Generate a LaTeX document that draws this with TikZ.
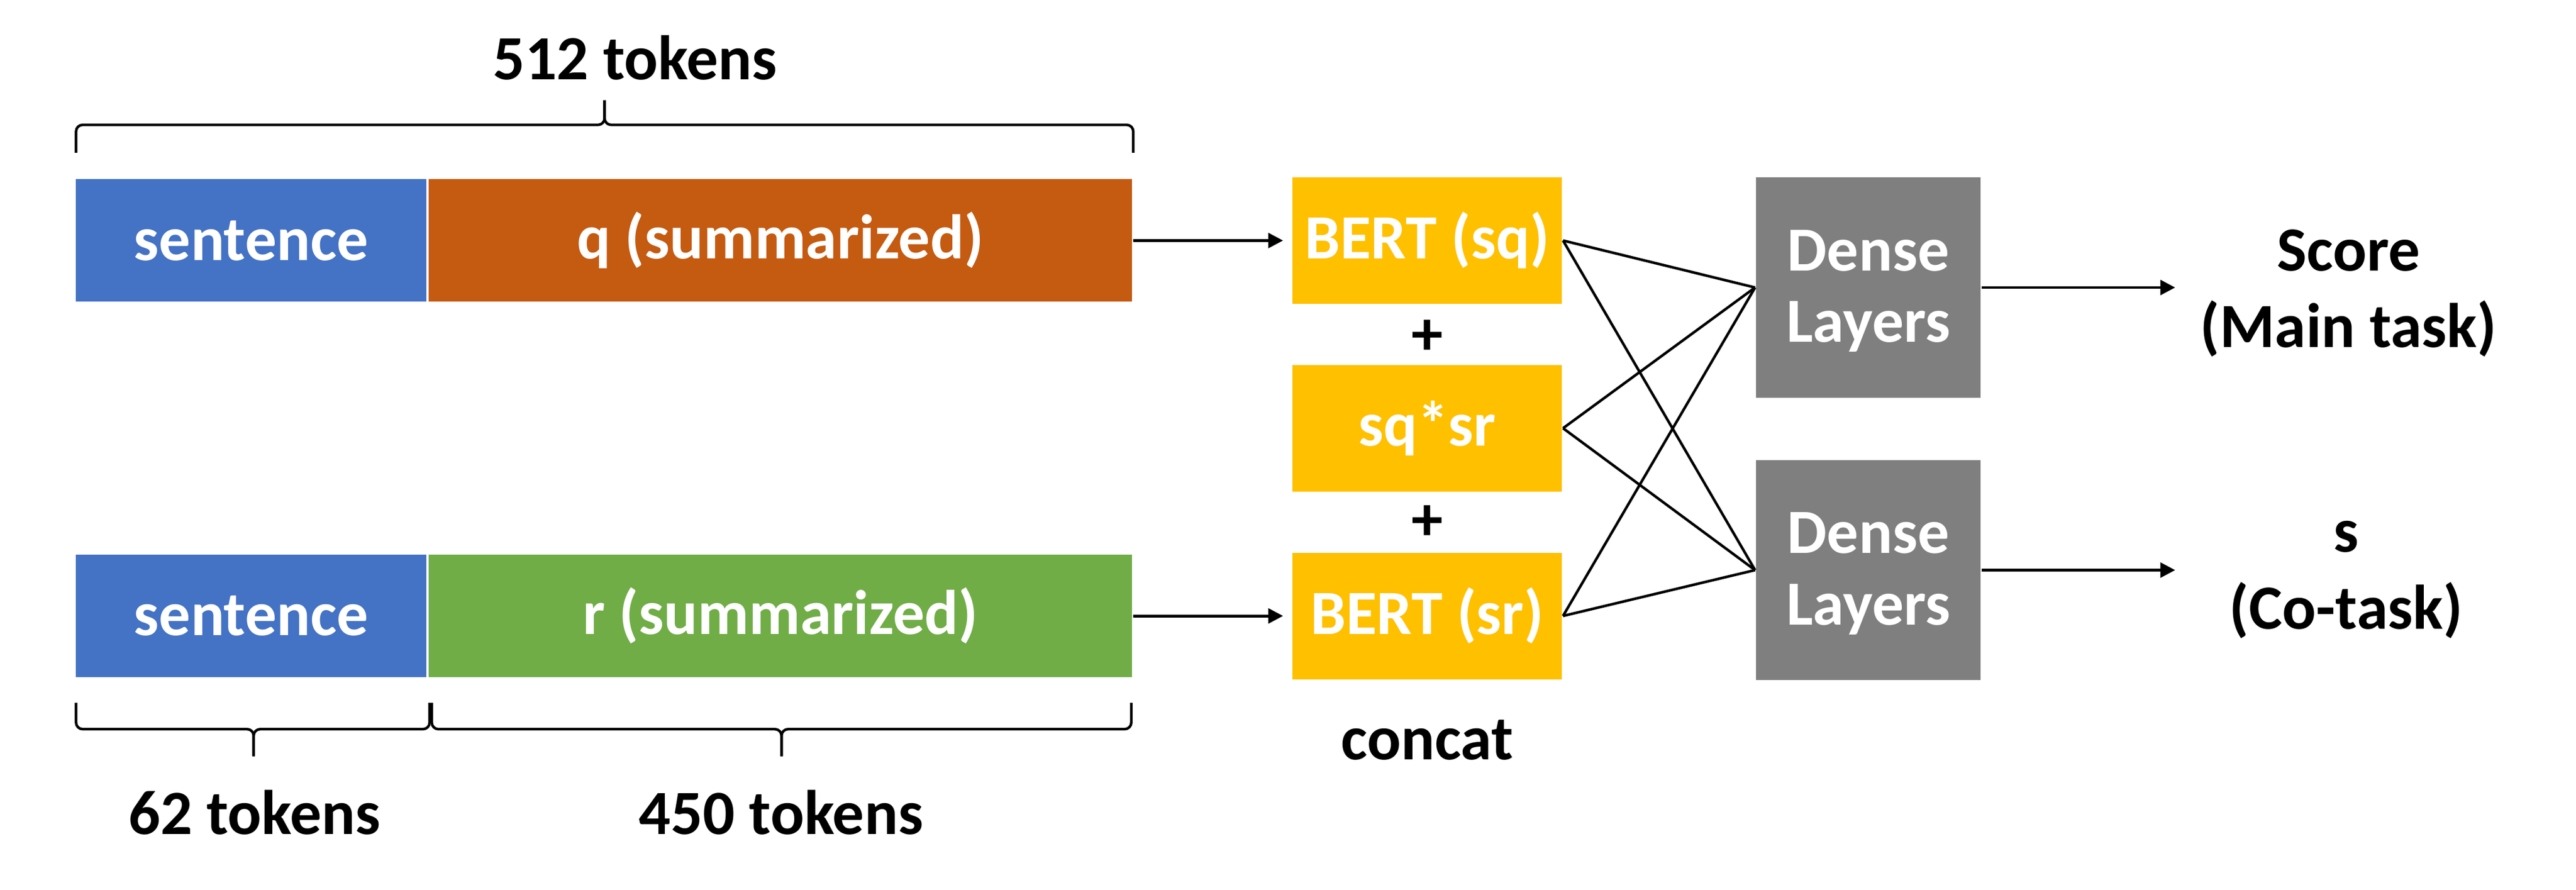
\documentclass[tikz,border=0pt]{standalone}
\usepackage{fontspec}
\setmainfont{Carlito}
\usetikzlibrary{arrows.meta}
\definecolor{sentblue}{HTML}{4472C4}
\definecolor{qorange}{HTML}{C55A11}
\definecolor{rgreen}{HTML}{70AD47}
\definecolor{bertyellow}{HTML}{FFC000}
\definecolor{densegray}{HTML}{7F7F7F}

\begin{document}
\begin{tikzpicture}[
    txt/.style={font=\fontsize{10.9}{13.3}\selectfont\bfseries},
    bar/.style={txt, text=white, minimum height=0.745cm, inner sep=0pt},
    bert/.style={txt, text=white, fill=bertyellow, minimum width=1.64cm, minimum height=0.77cm, inner sep=0pt},
    dense/.style={font=\fontsize{10.9}{12.4}\selectfont\bfseries, text=white, fill=densegray, align=center, minimum width=1.366cm, minimum height=1.34cm, inner sep=0pt},
    link/.style={line width=0.45pt},
    arr/.style={line width=0.5pt, -{Triangle[length=0.09cm, width=0.09cm]}},
    bracket/.style={line width=0.45pt, rounded corners=0.04cm}
  ]
        \useasboundingbox (0,0) rectangle (15.68,5.414);

        % Nodes
        \node (sent_q) [bar, fill=sentblue, minimum width=2.132cm] at (1.529,3.95) {sentence};
        \node (q) [bar, fill=qorange, right of=sent_q, node distance=3.221cm, minimum width=4.28cm] {q (summarized)};
        \node (sent_r) [bar, fill=sentblue, below of=sent_q, node distance=2.285cm, minimum width=2.132cm] {sentence};
        \node (r) [bar, fill=rgreen, right of=sent_r, node distance=3.221cm, minimum width=4.28cm] {r (summarized)};

        \node (BERT_sq) [bert, right of=q, node distance=3.937cm] {BERT (sq)};
        \node (sqsr) [bert, below of=BERT_sq, node distance=1.1425cm] {sq*sr};
        \node (BERT_sr) [bert, below of=sqsr, node distance=1.1425cm] {BERT (sr)};
        \node (plus_1) [txt, below of=BERT_sq, node distance=0.59cm] {+};
        \node (plus_2) [txt, above of=BERT_sr, node distance=0.565cm] {+};
        \node (concat) [txt, below of=BERT_sr, node distance=0.754cm] {concat};

        % struts push the two lines a little below the box centre
        \node (dense_1) [dense] at (11.373,3.664) {\rule{0pt}{10pt}Dense\\Layers\rule[-3.43pt]{0pt}{3.43pt}};
        \node (dense_2) [dense, below of=dense_1, node distance=1.72cm] {\rule{0pt}{10pt}Dense\\Layers\rule[-3.43pt]{0pt}{3.43pt}};

        \node (score) [txt, align=center] at (14.295,3.629) {Score\\(Main task)};
        \node (cotask) [txt, align=center] at (14.28,1.884) {s\\(Co-task)};
        \coordinate (out) at (13.24,0);

        \node (tok_512) [txt, anchor=base] at (3.866,4.928) {512 tokens};
        \node (tok_62) [txt, anchor=base] at (1.55,0.337) {62 tokens};
        \node (tok_450) [txt, anchor=base] at (4.755,0.337) {450 tokens};

        % Braces
        \draw [bracket] (0.463,4.484) -- (0.463,4.654) -- (3.68,4.654) -- (3.68,4.804);
        \draw [bracket] (6.898,4.484) -- (6.898,4.654) -- (3.68,4.654) -- (3.68,4.804);
        \draw [bracket] (0.463,1.136) -- (0.463,0.976) -- (1.544,0.976) -- (1.544,0.811);
        \draw [bracket] (2.615,1.136) -- (2.615,0.976) -- (1.544,0.976) -- (1.544,0.811);
        \draw [bracket] (2.628,1.136) -- (2.628,0.976) -- (4.757,0.976) -- (4.757,0.811);
        \draw [bracket] (6.886,1.136) -- (6.886,0.976) -- (4.757,0.976) -- (4.757,0.811);

        % Arrows
        \draw [arr, shorten >=0.05cm] (q) -- (BERT_sq);
        \draw [arr, shorten >=0.05cm] (r) -- (BERT_sr);
        \draw [link] (BERT_sq.east) -- (dense_1.west);
        \draw [link] (BERT_sq.east) -- (dense_2.west);
        \draw [link] (sqsr.east) -- (dense_1.west);
        \draw [link] (sqsr.east) -- (dense_2.west);
        \draw [link] (BERT_sr.east) -- (dense_1.west);
        \draw [link] (BERT_sr.east) -- (dense_2.west);
        \draw [arr] (dense_1.east) -- (dense_1.east -| out);
        \draw [arr] (dense_2.east) -- (dense_2.east -| out);
    \end{tikzpicture}
\end{document}
